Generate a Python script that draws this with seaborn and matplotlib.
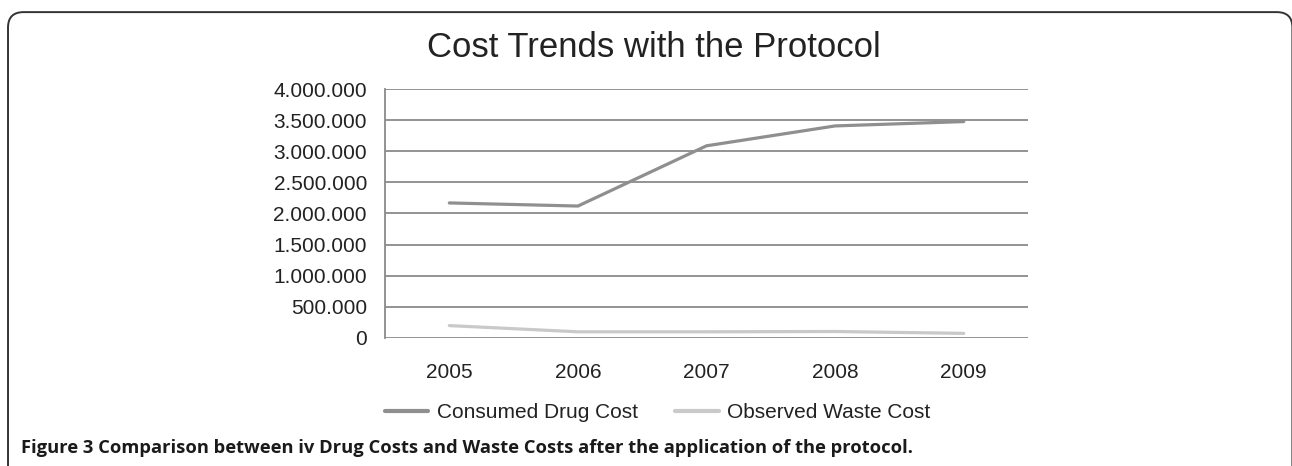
import pandas as pd
import matplotlib.pyplot as plt
import seaborn as sns
from matplotlib.patches import FancyBboxPatch
from matplotlib.ticker import FuncFormatter

# --- Data ---
years = ["2005", "2006", "2007", "2008", "2009"]
consumed_cost = [2170000, 2120000, 3090000, 3410000, 3480000]
waste_cost = [195000, 95000, 95000, 100000, 70000]
series_names = ["Consumed Drug Cost", "Observed Waste Cost"]
y_ticks = [0, 500000, 1000000, 1500000, 2000000, 2500000, 3000000, 3500000, 4000000]

df = pd.DataFrame({
    "Year": years * 2,
    "Cost": consumed_cost + waste_cost,
    "Series": [series_names[0]] * len(years) + [series_names[1]] * len(years),
})

sns.set_style("white")
plt.rcParams["font.family"] = ["Liberation Sans", "DejaVu Sans"]

fig = plt.figure(figsize=(12.92, 4.66), dpi=100)
ax = fig.add_axes([0.298, 0.2753, 0.4977, 0.5331])

sns.lineplot(data=df, x="Year", y="Cost", hue="Series", sort=False,
             palette=["#8f8f8f", "#c9c9c9"], linewidth=2.3, ax=ax, legend=False)

# --- Axes styling ---
ax.set_xlim(-0.5, 4.5)
ax.set_ylim(0, 4000000)
ax.set_yticks(y_ticks)
ax.yaxis.set_major_formatter(FuncFormatter(lambda v, p: f"{int(v):,}".replace(",", ".")))
ax.grid(axis="y", color="#8a8a8a", linewidth=1.3)
ax.set_axisbelow(True)
for side in ["top", "right", "bottom"]:
    ax.spines[side].set_visible(False)
ax.spines["left"].set_color("#8a8a8a")
ax.spines["left"].set_linewidth(1.3)
ax.tick_params(axis="both", length=0, labelsize=15, colors="#222222")
ax.tick_params(axis="y", pad=13)
ax.tick_params(axis="x", pad=18)
ax.set_xlabel("")
ax.set_ylabel("")

# Title
fig.text(0.506, 0.897, "Cost Trends with the Protocol", ha="center", va="center",
         fontsize=25, color="#222222")

# Legend
handles = [plt.Line2D([], [], color=c, linewidth=3) for c in ["#8f8f8f", "#c9c9c9"]]
fig.legend(handles, series_names, loc="center", bbox_to_anchor=(0.509, 0.114), ncol=2,
           frameon=False, fontsize=15, handlelength=2.1, handletextpad=0.4,
           columnspacing=1.8, labelcolor="#222222")

# Caption
fig.text(0.016, 0.039,
         "Figure 3 Comparison between iv Drug Costs and Waste Costs after the application of the protocol.",
         fontsize=13.2, fontweight="bold", va="center", family=["Open Sans", "DejaVu Sans"],
         color="#1a1a1a")

# Rounded frame around the figure (right side falls just off the image)
frame = FancyBboxPatch((0.0062, -0.2), 0.9941, 1.174, boxstyle="round,pad=0,rounding_size=0.012",
                       transform=fig.transFigure, fill=False, edgecolor="#333333", linewidth=1.4,
                       mutation_aspect=12.92 / 4.66)
fig.patches.append(frame)

fig.savefig("out.png", dpi=100)
